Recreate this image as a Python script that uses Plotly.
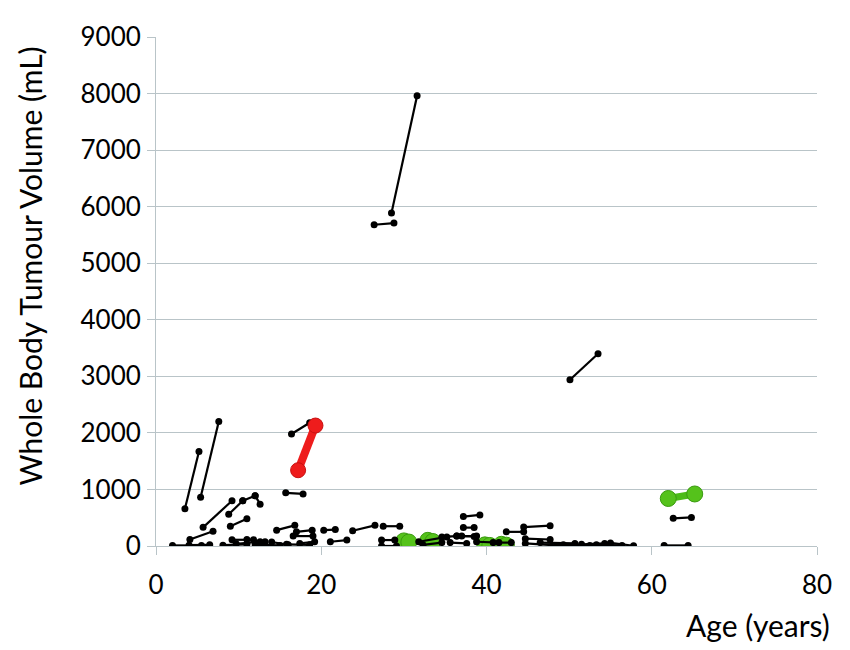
import plotly.graph_objects as go

# Paired measurements: age and whole body tumour volume at first and second scan
age1 = [3.5, 5.4, 16.4, 15.7, 26.4, 28.5, 50.1, 5.7, 8.8, 10.5, 12.0, 9.0, 4.1,
        14.6, 17.0, 20.3, 16.6, 21.1, 23.8, 27.5, 27.3, 27.3, 34.6, 35.6, 37.2,
        37.2, 37.0, 42.4, 44.5, 44.7, 62.6, 61.5, 2.0, 4.0, 8.1, 9.2, 9.7, 11.0,
        12.0, 14.0, 15.8, 17.4, 31.8, 32.3, 40.8, 44.7, 46.5, 49.3, 51.5, 53.3,
        55.0, 36.4, 38.8]
vol1 = [660, 860, 1980, 940, 5680, 5890, 2940, 330, 560, 800, 890, 350, 115,
        280, 250, 280, 175, 75, 270, 350, 105, 0, 160, 60, 520,
        325, 175, 250, 335, 130, 490, 10, 10, 15, 15, 110, 40, 115,
        20, 70, 30, 45, 75, 20, 60, 45, 60, 20, 30, 20,
        55, 175, 75]
age2 = [5.2, 7.6, 18.6, 17.8, 28.8, 31.6, 53.5, 9.2, 10.5, 12.0, 12.6, 11.0, 6.9,
        16.8, 18.9, 21.7, 19.0, 23.1, 26.5, 29.5, 28.9, 29.1, 36.4, 37.6, 39.2,
        38.5, 38.5, 44.5, 47.7, 47.7, 64.8, 64.4, 5.5, 6.5, 11.0, 11.8, 12.6, 13.2,
        15.0, 16.0, 18.6, 19.2, 35.2, 34.6, 43.0, 48.5, 50.7, 52.5, 54.3, 56.4,
        57.8, 38.8, 41.5]
vol2 = [1670, 2200, 2180, 920, 5710, 7960, 3400, 800, 800, 890, 740, 480, 260,
        365, 280, 290, 175, 105, 365, 350, 105, 0, 175, 45, 550,
        325, 170, 250, 360, 115, 505, 10, 10, 20, 30, 110, 75, 75,
        10, 20, 20, 75, 160, 60, 60, 10, 45, 10, 45, 10,
        5, 175, 60]

# Highlighted patients
red_age = [17.2, 19.3]
red_vol = [1340, 2130]

green_age1 = [62.0, 30.0, 32.9, 39.8, 41.8]
green_vol1 = [840, 90, 100, 20, 30]
green_age2 = [65.2, 30.6, 33.5, 40.4, 42.4]
green_vol2 = [920, 70, 80, 10, 15]


def pairs(a1, v1, a2, v2):
    xs, ys = [], []
    for i in range(len(a1)):
        xs += [a1[i], a2[i], None]
        ys += [v1[i], v2[i], None]
    return xs, ys


gx, gy = pairs(green_age1, green_vol1, green_age2, green_vol2)
bx, by = pairs(age1, vol1, age2, vol2)

fig = go.Figure()
fig.add_trace(go.Scatter(x=gx, y=gy, mode='lines+markers',
                         line=dict(color='#4cbb17', width=7),
                         marker=dict(color='#55c21b', size=16,
                                     line=dict(color='#3a9a10', width=1))))
fig.add_trace(go.Scatter(x=bx, y=by, mode='lines+markers',
                         line=dict(color='black', width=2.2),
                         marker=dict(color='black', size=7)))
fig.add_trace(go.Scatter(x=red_age, y=red_vol, mode='lines+markers',
                         line=dict(color='#ee1c1c', width=8),
                         marker=dict(color='#ee1c1c', size=15,
                                     line=dict(color='#c81010', width=1))))

axis_grey = '#b9c4c8'
fig.update_layout(
    width=850, height=650,
    margin=dict(l=148, r=41, t=20, b=112),
    paper_bgcolor='white', plot_bgcolor='white',
    showlegend=False,
    font=dict(family='Lato', size=26, color='black'),
    xaxis=dict(range=[0, 80], tickvals=[0, 20, 40, 60, 80], showgrid=False,
               showline=True, linecolor=axis_grey, linewidth=1,
               ticks='outside', ticklen=8, tickcolor=axis_grey,
               zeroline=False, ticklabelstandoff=8),
    yaxis=dict(range=[0, 9000], tickvals=list(range(0, 9001, 1000)),
               showgrid=True, gridcolor=axis_grey, gridwidth=1,
               showline=True, linecolor=axis_grey, linewidth=1,
               ticks='outside', ticklen=8, tickcolor=axis_grey,
               zeroline=False, ticklabelstandoff=1),
    annotations=[
        dict(text='Age (years)', xref='paper', yref='paper', x=1.022, y=-0.156,
             xanchor='right', yanchor='middle', showarrow=False,
             font=dict(size=30)),
        dict(text='Whole Body Tumour Volume (mL)', xref='paper', yref='paper',
             x=-0.19, y=0.55, xanchor='center', yanchor='middle',
             textangle=-90, showarrow=False, font=dict(size=30)),
    ],
)

fig.write_html("out.html")
